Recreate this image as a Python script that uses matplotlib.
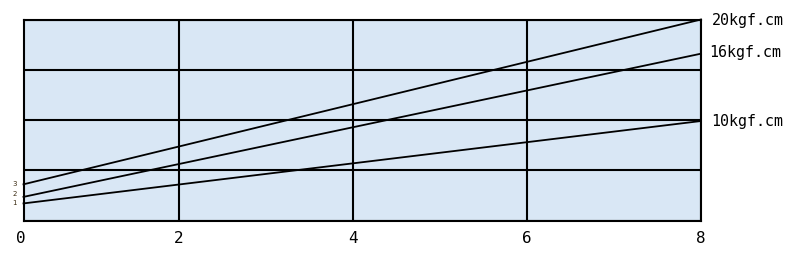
import matplotlib.pyplot as plt

x_left = 0.21
x_ticks = [2, 4, 6, 8]
y_grid = [0, 5, 10, 15, 20]

# start (left edge) and end (x=8) of each line
x_pts = [x_left, 8]
line_20 = [3.6, 20.0]
line_16 = [2.35, 16.6]
line_10 = [1.7, 9.9]
end_labels = ['20kgf.cm', '16kgf.cm', '10kgf.cm']
start_labels = ['3', '2', '1']

W, H = 800, 256
fig = plt.figure(figsize=(W / 100, H / 100), dpi=100)
ax = fig.add_axes([23.5 / W, (H - 220.5) / H, (701 - 23.5) / W, (220.5 - 19.5) / H])
ax.set_facecolor('#d9e7f5')

for ys in [line_20, line_16, line_10]:
    ax.plot(x_pts, ys, color='black', lw=1.3, clip_on=False, zorder=3)

ax.set_xlim(x_left, 8)
ax.set_ylim(0, 20)
ax.set_xticks(x_ticks)
ax.set_yticks(y_grid)
ax.grid(True, color='black', lw=1.5)
ax.tick_params(length=0, labelleft=False, labelbottom=False)
for s in ax.spines.values():
    s.set_color('black')
    s.set_linewidth(1.5)

mono = ['DejaVu Sans Mono']
for xv, lab in zip([x_left] + x_ticks, ['0'] + [str(v) for v in x_ticks]):
    ax.annotate(lab, (xv, 0), xytext=(-2 if lab == '0' else 0, -13),
                textcoords='offset points',
                ha='center', va='center', fontsize=11.5, family=mono)

for lab, ys, dx, dy in zip(end_labels, [line_20, line_16, line_10], [8, 6, 7], [-1, 1, 0]):
    ax.annotate(lab, (8, ys[1]), xytext=(dx, dy), textcoords='offset points',
                ha='left', va='center', fontsize=10.8, family=mono)

for lab, ys, dy in zip(start_labels, [line_20, line_16, line_10], [0, 2.3, 0]):
    ax.annotate(lab, (x_left, ys[0]), xytext=(-6.5, dy), textcoords='offset points',
                ha='center', va='center', fontsize=5, color='#3a2a10')

fig.savefig('out.png', dpi=100)
